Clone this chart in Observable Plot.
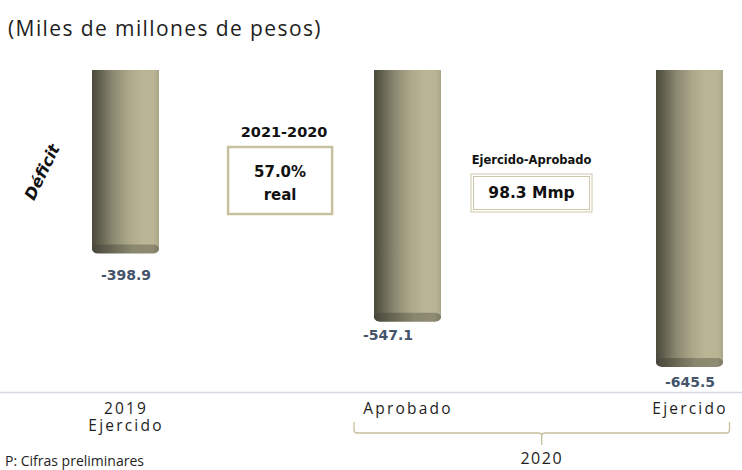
<!DOCTYPE html>
<html><head><meta charset="utf-8">
<script src="https://cdn.jsdelivr.net/npm/d3@7"></script>
<script src="https://cdn.jsdelivr.net/npm/@observablehq/plot@0.6"></script>
<style>
body{margin:0;background:#fff;width:742px;height:470px;overflow:hidden}
#title{height:50px;font-family:"Open Sans";font-size:21px;letter-spacing:1.4px;color:#1e1e1e;padding-left:8px;line-height:56px;box-sizing:border-box;white-space:nowrap}
</style></head><body>
<div id="title">(Miles de millones de pesos)</div>
<div id="chart"></div>
<script>
// ---- data ----
const categories = ["e2019", "aprob", "ejer"];
const tickLabels = ["2019\nEjercido", "Aprobado", "Ejercido"];
const values = [-398.9, -547.1, -645.5];
const valueLabels = ["-398.9", "-547.1", "-645.5"];
const groupLabel = "2020";
const seriesLabel = "Déficit";
const box1Title = "2021-2020";
const box1Lines = ["57.0%", "real"];
const box2Title = "Ejercido-Aprobado";
const box2Lines = ["98.3 Mmp"];
const note = "P: Cifras preliminares";

const data = categories.map((c, i) => ({cat: c, value: values[i], label: valueLabels[i]}));
const labelOf = Object.fromEntries(categories.map((c, i) => [c, tickLabels[i]]));

const sansB = "DejaVu Sans";
const labelStyle = {fontFamily: sansB, fontWeight: "bold", fontSize: 14, fill: "#44546a"};

const plot = Plot.plot({
  width: 742, height: 420,
  marginTop: 20, marginBottom: 78, marginLeft: 0, marginRight: 0,
  style: {fontFamily: "Open Sans", background: "transparent", overflow: "visible"},
  x: {domain: categories, range: [91.5, 723.5], paddingInner: 0.763, paddingOuter: 0, label: null},
  y: {domain: [0, -700], range: [20, 342], axis: null},
  marks: [
    Plot.frame({anchor: "bottom", stroke: "#d3d8e1", strokeWidth: 1.5}),
    Plot.barY(data, {x: "cat", y1: 0, y2: "value", fill: "url(#cyl)", insetBottom: 4}),
    Plot.barY(data, {x: "cat", y1: "value", y2: "value", insetTop: -9, rx: 6, fill: "url(#cap)"}),
    Plot.text(data, {filter: d => d.cat === "e2019", x: "cat", y: "value", text: "label", dy: 22, ...labelStyle}),
    Plot.text(data, {filter: d => d.cat === "aprob", x: "cat", y: "value", text: "label", dx: -20, dy: 13, ...labelStyle}),
    Plot.text(data, {filter: d => d.cat === "ejer", x: "cat", y: "value", text: "label", dy: 15, ...labelStyle}),
    Plot.axisX({anchor: "bottom", tickSize: 0, tickPadding: 9, fontSize: 15.5, lineHeight: 1.12, fill: "#1e1e1e",
      fontFamily: "Open Sans", tickFormat: d => labelOf[d], label: null})
  ]
});
document.getElementById("chart").appendChild(plot);

// ---- decorations using the plot's scales ----
const svg = d3.select(plot);
const flat = tickLabels.map(l => l.replace(/\n/g, ""));
svg.selectAll("text").filter(function () { return flat.includes(this.textContent); })
  .style("letter-spacing", "2.2px");
const xs = plot.scale("x");
const band = d3.scaleBand().domain(xs.domain).range(xs.range)
  .paddingInner(xs.paddingInner).paddingOuter(xs.paddingOuter).align(xs.align ?? 0.5);
const bw = band.bandwidth();
const xc = k => band(k) + bw / 2;

const defs = svg.insert("defs", ":first-child");
const g1 = defs.append("linearGradient").attr("id", "cyl").attr("x1", 0).attr("x2", 1).attr("y1", 0).attr("y2", 0);
[[0, "#4b4a3b"], [0.1, "#5e5d4b"], [0.3, "#8a8770"], [0.55, "#aca889"], [0.75, "#bab595"], [0.92, "#b9b494"], [1, "#aaa688"]]
  .forEach(([o, c]) => g1.append("stop").attr("offset", o).attr("stop-color", c));
const g2 = defs.append("linearGradient").attr("id", "cap").attr("x1", 0).attr("x2", 1).attr("y1", 0).attr("y2", 0);
[[0, "#46453a"], [0.3, "#6a6854"], [0.6, "#8a876f"], [0.9, "#8f8c73"], [1, "#7d7a63"]]
  .forEach(([o, c]) => g2.append("stop").attr("offset", o).attr("stop-color", c));

const ann = svg.append("g").attr("text-anchor", "start");
const bold = (sel) => sel.attr("font-family", sansB).attr("font-weight", "bold").attr("fill", "#111").attr("text-anchor", "middle");

// Box 1 (between 2019 and Aprobado)
const c1 = xc("e2019") + 0.549 * (xc("aprob") - xc("e2019"));
bold(ann.append("text")).attr("x", c1 + 4).attr("y", 82).attr("dy", "0.35em").attr("font-size", 14.5).text(box1Title);
ann.append("rect").attr("x", c1 - 52).attr("y", 97).attr("width", 104).attr("height", 67)
  .attr("fill", "#fff").attr("stroke", "#c6c09d").attr("stroke-width", 2.5);
box1Lines.forEach((t, i) => bold(ann.append("text")).attr("x", c1).attr("y", 122 + i * 23).attr("dy", "0.35em").attr("font-size", 15).text(t));

// Box 2 (between Aprobado and Ejercido)
const c2 = xc("aprob") + 0.439 * (xc("ejer") - xc("aprob"));
bold(ann.append("text")).attr("x", c2).attr("y", 110).attr("dy", "0.35em").attr("font-size", 11.5).text(box2Title);
ann.append("rect").attr("x", c2 - 60.5).attr("y", 124).attr("width", 121).attr("height", 38)
  .attr("fill", "#fff").attr("stroke", "#cdc8aa").attr("stroke-width", 1);
ann.append("rect").attr("x", c2 - 58).attr("y", 126.5).attr("width", 116).attr("height", 33)
  .attr("fill", "none").attr("stroke", "#cdc8aa").attr("stroke-width", 1);
box2Lines.forEach((t, i) => bold(ann.append("text")).attr("x", c2).attr("y", 143).attr("dy", "0.35em").attr("font-size", 15.5).text(t));

// Series label
ann.append("text").attr("transform", "translate(42,122) rotate(-64)").attr("text-anchor", "middle").attr("dy", "0.35em")
  .attr("font-family", sansB).attr("font-weight", "bold").attr("font-style", "italic").attr("font-size", 16).attr("fill", "#111")
  .text(seriesLabel);

// Bracket grouping Aprobado & Ejercido
const bL = band("aprob") - 20, bR = band("ejer") + bw + 6, bM = (bL + bR) / 2;
const bTop = 372, bHy = 383, bSp = 395, br = 3;
ann.append("path").attr("fill", "none").attr("stroke", "#c6c09c").attr("stroke-width", 1.3)
  .attr("d", `M${bL},${bTop}V${bHy - br}Q${bL},${bHy} ${bL + br},${bHy}H${bM - br}Q${bM},${bHy} ${bM},${bHy + br}V${bSp}M${bM},${bHy + br}Q${bM},${bHy} ${bM + br},${bHy}H${bR - br}Q${bR},${bHy} ${bR},${bHy - br}V${bTop}`);
ann.append("text").attr("x", bM).attr("y", 408).attr("dy", "0.35em").attr("text-anchor", "middle")
  .attr("font-family", "Open Sans").attr("font-size", 16).attr("letter-spacing", 1.5).attr("fill", "#1e1e1e").text(groupLabel);

// Note
ann.append("text").attr("x", 5).attr("y", 416).attr("text-anchor", "start").attr("font-family", "Open Sans").attr("font-size", 14)
  .attr("fill", "#1e1e1e").text(note);
</script>
</body></html>
